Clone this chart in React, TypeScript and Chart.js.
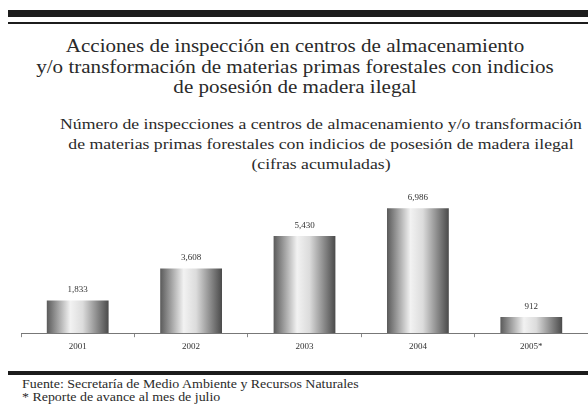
import React, { useEffect, useRef } from "react";
import { Chart, registerables } from "chart.js";

Chart.register(...registerables);

const years = ["2001", "2002", "2003", "2004", "2005*"];
const inspections = [1833, 3608, 5430, 6986, 912];
const valueLabels = ["1,833", "3,608", "5,430", "6,986", "912"];

const titleLines = [
  "Acciones de inspección en centros de almacenamiento",
  "y/o transformación de materias primas forestales con indicios",
  "de posesión de madera ilegal",
];
const subtitleLines = [
  "Número de inspecciones a centros de almacenamiento y/o transformación",
  "de materias primas forestales con indicios de posesión de madera ilegal",
  "(cifras acumuladas)",
];
const footLines = [
  "Fuente: Secretaría de Medio Ambiente y Recursos Naturales",
  "* Reporte de avance al mes de julio",
];

const SERIF = "'Liberation Serif', 'DejaVu Serif', serif";

const valueLabelPlugin = {
  id: "valueLabels",
  afterDatasetsDraw(chart: any) {
    const ctx = chart.ctx;
    const meta = chart.getDatasetMeta(0);
    ctx.save();
    ctx.font = `9px ${SERIF}`;
    ctx.fillStyle = "#333";
    ctx.textAlign = "center";
    ctx.textBaseline = "bottom";
    meta.data.forEach((el: any, i: number) => {
      ctx.fillText(valueLabels[i], el.x, el.y - 6);
    });
    ctx.restore();
  },
};

function barGradient(context: any) {
  const chart = context.chart;
  const xs = chart.scales && chart.scales.x;
  const area = chart.chartArea;
  if (!xs || !area || context.dataIndex === undefined) return "#999";
  const cx = xs.getPixelForValue(context.dataIndex);
  const half = (xs.width / years.length) * 0.545 / 2;
  const g = chart.ctx.createLinearGradient(cx - half, 0, cx + half, 0);
  g.addColorStop(0, "#5a5a5a");
  g.addColorStop(0.38, "#f2f2f2");
  g.addColorStop(0.58, "#dcdcdc");
  g.addColorStop(1, "#4a4a4a");
  return g;
}

function BarChart() {
  const ref = useRef<HTMLCanvasElement | null>(null);
  useEffect(() => {
    if (!ref.current) return;
    const chart = new Chart(ref.current, {
      type: "bar",
      data: {
        labels: years,
        datasets: [
          {
            data: inspections,
            backgroundColor: barGradient,
            borderWidth: 0,
            categoryPercentage: 1,
            barPercentage: 0.545,
          },
        ],
      },
      options: {
        animation: false,
        responsive: false,
        maintainAspectRatio: false,
        layout: { padding: { left: 21, right: 0, top: 10, bottom: 9 } },
        plugins: {
          legend: { display: false },
          tooltip: { enabled: false },
          title: { display: false },
        },
        scales: {
          x: {
            grid: {
              display: true,
              drawOnChartArea: false,
              drawTicks: true,
              tickLength: 4,
              color: "#888",
            },
            border: { display: true, color: "#777", width: 1 },
            ticks: {
              color: "#333",
              font: { family: SERIF, size: 9 },
              padding: 4,
            },
          },
          y: {
            display: false,
            min: 0,
            max: 8000,
          },
        },
      },
      plugins: [valueLabelPlugin],
    });
    return () => chart.destroy();
  }, []);
  return (
    <canvas
      ref={ref}
      width={588}
      height={185}
      style={{ position: "absolute", left: 0, top: 180, width: 588, height: 185 }}
    />
  );
}

function Line(props: { text: string; center: number; y: number; size: number; sx: number }) {
  const { text, center, y, size, sx } = props;
  return (
    <div
      style={{
        position: "absolute",
        left: center - 400,
        width: 800,
        top: y - size * 0.6,
        height: size * 1.2,
        lineHeight: `${size * 1.2}px`,
        fontSize: size,
        fontFamily: SERIF,
        color: "#2a2a2a",
        textAlign: "center",
        whiteSpace: "nowrap",
        transform: `scaleX(${sx})`,
        transformOrigin: "center",
      }}
    >
      {text}
    </div>
  );
}

export default function App() {
  return (
    <div
      style={{
        position: "absolute",
        left: 0,
        top: 0,
        width: 588,
        height: 407,
        overflow: "hidden",
        background: "#fff",
      }}
    >
      <div style={{ position: "absolute", left: 8, top: 10, width: 580, height: 7, background: "#1c1c1c" }} />
      <div style={{ position: "absolute", left: 8, top: 22, width: 580, height: 2, background: "#1c1c1c" }} />
      {titleLines.map((t, i) => (
        <Line key={"t" + i} text={t} center={295} y={47 + i * 20.5} size={18} sx={1.17} />
      ))}
      {subtitleLines.map((t, i) => (
        <Line key={"s" + i} text={t} center={321} y={124 + i * 20} size={15} sx={1.18} />
      ))}
      <BarChart />
      <div style={{ position: "absolute", left: 8, top: 371, width: 580, height: 4, background: "#1c1c1c" }} />
      {footLines.map((t, i) => (
        <div
          key={"f" + i}
          style={{
            position: "absolute",
            left: 22,
            top: 378 + i * 13,
            fontSize: 12,
            lineHeight: "13px",
            fontFamily: SERIF,
            color: "#2a2a2a",
            whiteSpace: "nowrap",
            transform: "scaleX(1.16)",
            transformOrigin: "left center",
          }}
        >
          {t}
        </div>
      ))}
    </div>
  );
}
